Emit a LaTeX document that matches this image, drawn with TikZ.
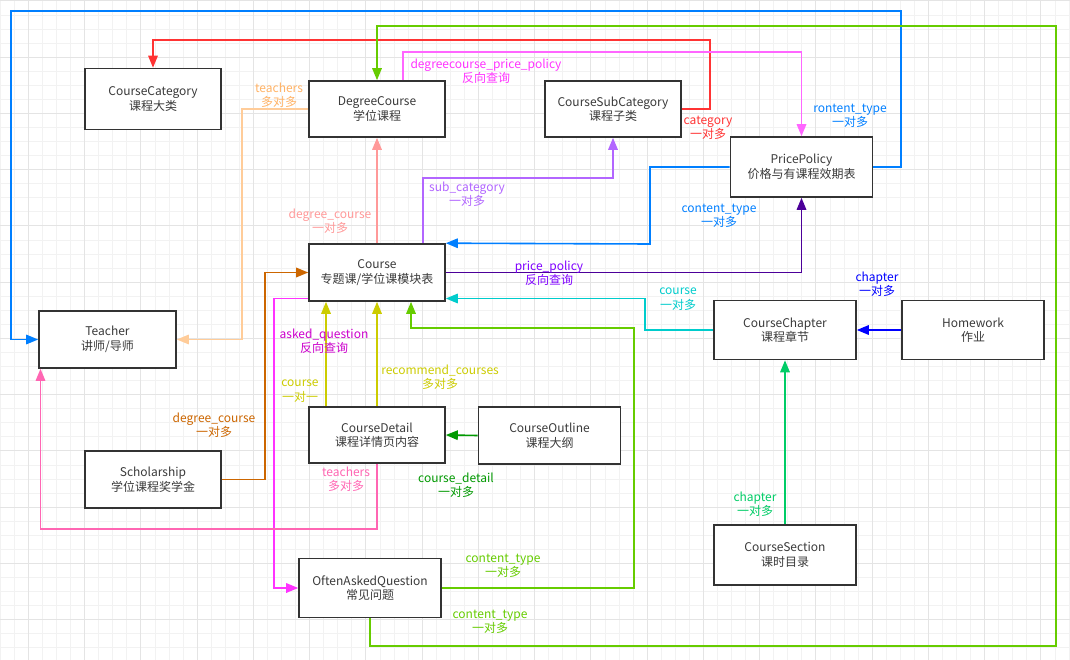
\documentclass[tikz,border=0pt]{standalone}
\usepackage{fontspec}
\setmainfont{Noto Sans CJK SC}
\usetikzlibrary{arrows.meta}

\definecolor{boxline}{HTML}{333333}
\definecolor{boxtext}{HTML}{3A3A3A}
\definecolor{gridminor}{HTML}{F2F2F2}
\definecolor{gridmajor}{HTML}{E4E4E4}
\definecolor{cBlue}{HTML}{007FFF}
\definecolor{cRed}{HTML}{FF3333}
\definecolor{cLime}{HTML}{66CC00}
\definecolor{cMagenta}{HTML}{FF66FF}
\definecolor{cSalmon}{HTML}{FF9999}
\definecolor{cViolet}{HTML}{B266FF}
\definecolor{cPeach}{HTML}{FFCC99}
\definecolor{cPeachText}{HTML}{FFB366}
\definecolor{cPurple}{HTML}{4C0099}
\definecolor{cPurpleText}{HTML}{7F00FF}
\definecolor{cCyan}{HTML}{00CCCC}
\definecolor{cDeepBlue}{HTML}{0000FF}
\definecolor{cMint}{HTML}{00CC66}
\definecolor{cGreen}{HTML}{009900}
\definecolor{cYellow}{HTML}{CCCC00}
\definecolor{cFuchsia}{HTML}{FF33FF}
\definecolor{cFuchsiaText}{HTML}{CC00CC}
\definecolor{cOrange}{HTML}{CC6600}
\definecolor{cPink}{HTML}{FF66B3}

\begin{document}
\begin{tikzpicture}[x=1pt, y=-1pt,
  table/.style={draw=boxline, line width=1.6pt, fill=white, text=boxtext,
    align=center, inner sep=0pt, font=\fontsize{12}{14.5}\selectfont},
  link/.style={line width=1.6pt, -{Triangle[length=12pt,width=9.5pt]}},
  lbl/.style={align=center, inner sep=0pt, font=\fontsize{12}{14.5}\selectfont}]

  % background grid
  \fill[white] (0,0) rectangle (1070,660);
  \useasboundingbox (0,0) rectangle (1070,660);
  \foreach \i in {0,...,76}
    \draw[gridminor, line width=0.7pt] ({0.2+14.0625*\i},0) -- ++(0,660);
  \foreach \j in {0,...,46}
    \draw[gridminor, line width=0.7pt] (0,{0.8+14.0625*\j}) -- ++(1070,0);
  \foreach \i in {0,...,18}
    \draw[gridmajor, line width=0.7pt] ({28.3+56.25*\i},0) -- ++(0,660);
  \foreach \j in {0,...,11}
    \draw[gridmajor, line width=0.7pt] (0,{0.8+56.25*\j}) -- ++(1070,0);

  % tables
  \node[table, minimum width=136pt, minimum height=61pt] (cat) at (153,99) {CourseCategory\\课程大类};
  \node[table, minimum width=136pt, minimum height=56pt] (dc) at (377,109) {DegreeCourse\\学位课程};
  \node[table, minimum width=136pt, minimum height=56pt] (subcat) at (613,109) {CourseSubCategory\\课程子类};
  \node[table, minimum width=142pt, minimum height=60pt] (pp) at (801.5,167) {PricePolicy\\价格与有课程效期表};
  \node[table, minimum width=136pt, minimum height=57pt] (course) at (377,272.5) {Course\\专题课/学位课模块表};
  \node[table, minimum width=137pt, minimum height=57pt] (teacher) at (107.5,339.5) {Teacher\\讲师/导师};
  \node[table, minimum width=142pt, minimum height=59pt] (chapter) at (785,330) {CourseChapter\\课程章节};
  \node[table, minimum width=142pt, minimum height=59pt] (hw) at (973,330) {Homework\\作业};
  \node[table, minimum width=136pt, minimum height=56pt] (cd) at (377,435) {CourseDetail\\课程详情页内容};
  \node[table, minimum width=142pt, minimum height=57pt] (co) at (549.5,435.5) {CourseOutline\\课程大纲};
  \node[table, minimum width=136pt, minimum height=57pt] (sch) at (153,479.5) {Scholarship\\学位课程奖学金};
  \node[table, minimum width=142pt, minimum height=60pt] (sec) at (785,555) {CourseSection\\课时目录};
  \node[table, minimum width=142pt, minimum height=59pt] (faq) at (370,588) {OftenAskedQuestion\\常见问题};

  % relations
  \draw[link, cBlue] (pp.east) -| (901,11) -| (11,339.5) -- (teacher.west);
  \draw[link, cBlue] (pp.west) -| (650,244) -- (course.north east);
  \draw[link, cRed] (subcat.east) -| (710,40) -| (cat.north);
  \draw[link, cLime] (faq.south) |- (1056,646) -- (1056,26) -| (dc.north);
  \draw[link, cLime] (faq.east) -| (634,328) -| ([xshift=34pt]course.south);
  \draw[link, cMagenta] ([xshift=26pt]dc.north) -- ++(0,-28) -| (pp.north);
  \draw[link, cSalmon] (course.north) -- (dc.south);
  \draw[link, cViolet] ([xshift=46pt]course.north) -- ++(0,-65) -| (subcat.south);
  \draw[link, cPeach] (dc.west) -| (242,339.5) -- (teacher.east);
  \draw[link, cPurple] (course.east) -| (pp.south);
  \draw[link, cCyan] (chapter.west) -| (645,298.5) -- ([yshift=-26pt]course.east);
  \draw[link, cDeepBlue] (hw.west) -- (chapter.east);
  \draw[link, cMint] (sec.north) -- (chapter.south);
  \draw[link, cGreen] (co.west) -- (cd.east);
  \draw[link, cYellow] ([xshift=-51pt]cd.north) -- ([xshift=-51pt]course.south);
  \draw[link, cYellow] (cd.north) -- (course.south);
  \draw[link, cFuchsia] ([yshift=-26pt]course.west) -| (274,588) -- (faq.west);
  \draw[link, cOrange] (sch.east) -| (265,272.5) -- (course.west);
  \draw[link, cPink] (cd.south) -- ++(0,65) -| ([xshift=-67pt]teacher.south);

  % labels
  \node[lbl, text=cBlue] (lrontent) at (850,116) {rontent\_type\\一对多};
  \node[lbl, text=cBlue] (lcontent) at (719,216) {content\_type\\一对多};
  \node[lbl, text=cRed] (lcategory) at (708,128) {category\\一对多};
  \node[lbl, text=cLime] (lfaqdc) at (490,622) {content\_type\\一对多};
  \node[lbl, text=cLime] (lfaqcourse) at (503,566) {content\_type\\一对多};
  \node[lbl, text=cFuchsia] (ldcpp) at (486,71) {degreecourse\_price\_policy\\反向查询};
  \node[lbl, text=cSalmon] (ldegree) at (330,221) {degree\_course\\一对多};
  \node[lbl, text=cViolet] (lsubcat) at (467,194) {sub\_category\\一对多};
  \node[lbl, text=cPeachText] (ldcteacher) at (279,95) {teachers\\多对多};
  \node[lbl, text=cPurpleText] (lprice) at (549,273) {price\_policy\\反向查询};
  \node[lbl, text=cCyan] (lcourse) at (678,299) {course\\一对多};
  \node[lbl, text=cDeepBlue] (lhw) at (877,284) {chapter\\一对多};
  \node[lbl, text=cMint] (lsec) at (755,504) {chapter\\一对多};
  \node[lbl, text=cGreen] (ldetail) at (456,485) {course\_detail\\一对多};
  \node[lbl, text=cYellow] (lone) at (300,391) {course\\一对一};
  \node[lbl, text=cYellow] (lrecommend) at (440,377) {recommend\_courses\\多对多};
  \node[lbl, text=cFuchsiaText] (lasked) at (324,341) {asked\_question\\反向查询};
  \node[lbl, text=cOrange] (lscholar) at (214,425) {degree\_course\\一对多};
  \node[lbl, text=cPink] (lcdteacher) at (346,479) {teachers\\多对多};
\end{tikzpicture}
\end{document}
